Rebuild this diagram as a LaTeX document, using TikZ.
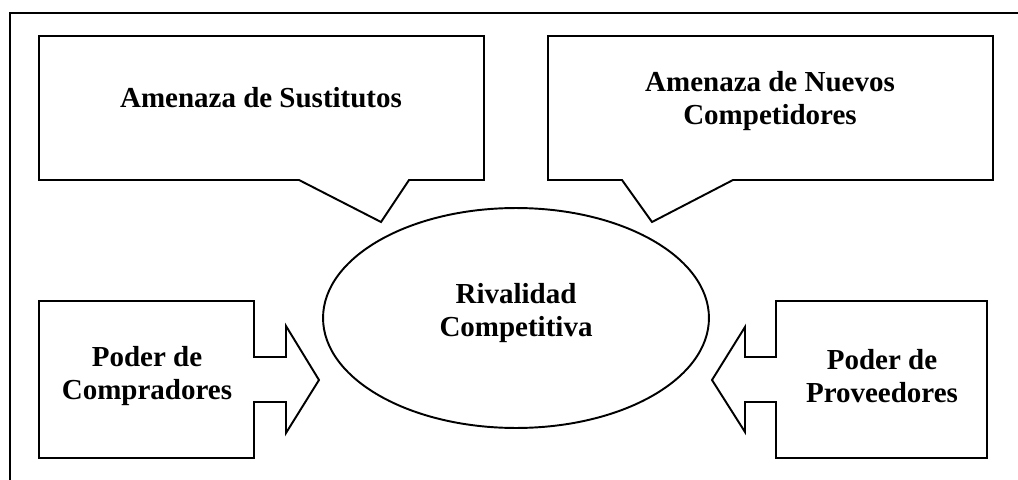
\documentclass[tikz,border=0pt]{standalone}
\usepackage{fontspec}
\setmainfont{Liberation Serif}
\usetikzlibrary{shapes.geometric}
\begin{document}
\begin{tikzpicture}[x=0.02cm,y=-0.02cm,
  shape line/.style={draw=black,line width=1.1pt,line join=miter,fill=white},
  label text/.style={font=\fontsize{16.5}{18.8}\selectfont\bfseries,align=center,inner sep=0pt}]
\useasboundingbox (0,0) rectangle (1018,480);
% outer frame (only top and left edges visible)
\draw[line width=1.3pt] (10,480) -- (10,13) -- (1018,13);
% callout: Amenaza de Sustitutos
\draw[shape line] (39,36) -- (484,36) -- (484,180) -- (409,180) -- (381,222) -- (299,180) -- (39,180) -- cycle;
\node[label text] (sust) at (261,98) {Amenaza de Sustitutos};
% callout: Amenaza de Nuevos Competidores
\draw[shape line] (548,36) -- (993,36) -- (993,180) -- (733,180) -- (652,222) -- (622,180) -- (548,180) -- cycle;
\node[label text] (nuev) at (770,101) {Amenaza de Nuevos\\Competidores};
% ellipse
\node[draw=black,line width=1.1pt,ellipse,minimum width=7.72cm,minimum height=4.4cm,inner sep=0pt] (riv) at (516,318) {};
\node[label text] (rivt) at (516,313) {Rivalidad\\Competitiva};
% left box with arrow: Poder de Compradores
\draw[shape line] (39,301) -- (254,301) -- (254,357) -- (286,357) -- (286,326) -- (319,380) -- (286,433) -- (286,402) -- (254,402) -- (254,458) -- (39,458) -- cycle;
\node[label text] (comp) at (147,376) {Poder de\\Compradores};
% right box with arrow: Poder de Proveedores
\draw[shape line] (987,301) -- (776,301) -- (776,357) -- (745,357) -- (745,327) -- (712,380) -- (745,432) -- (745,402) -- (776,402) -- (776,458) -- (987,458) -- cycle;
\node[label text] (prov) at (882,376) {Poder de\\Proveedores};
\end{tikzpicture}
\end{document}
